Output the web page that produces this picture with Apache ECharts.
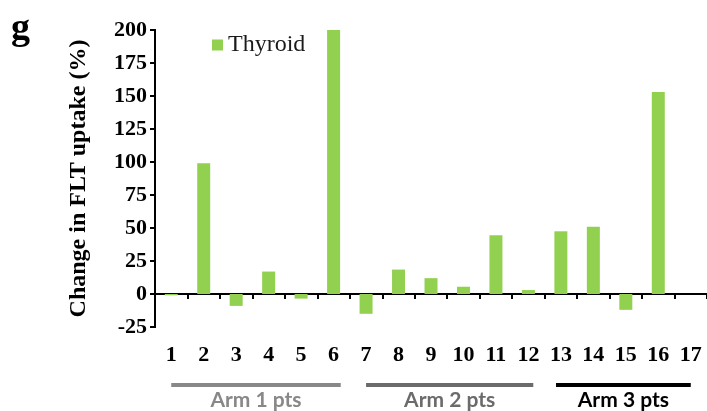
<!DOCTYPE html>
<html>
<head>
<meta charset="utf-8">
<script src="https://cdn.jsdelivr.net/npm/echarts@6/dist/echarts.min.js"></script>
<style>
  html, body { margin: 0; padding: 0; background: #fff; }
  #chart { width: 707px; height: 411px; }
</style>
</head>
<body>
<div id="chart"></div>
<script>
// Patient numbers along the x axis
const patients = ['1','2','3','4','5','6','7','8','9','10','11','12','13','14','15','16','17'];
// Change in thyroid FLT uptake (%) per patient
const thyroid = [-1, 99, -9, 17, -3.5, 201.5, -15, 18.5, 12, 5.5, 44.5, 3, 47.5, 51, -12, 153, 0];
// Y axis range and step
const yMin = -25, yMax = 200, yStep = 25;
// Treatment arm groupings (first and last patient index, label, colour)
const arms = [
  { from: 0, to: 5, label: 'Arm 1 pts', color: '#888888' },
  { from: 6, to: 11, label: 'Arm 2 pts', color: '#6b6b6b' },
  { from: 12, to: 16, label: 'Arm 3 pts', color: '#000000' }
];

const serif = '"Liberation Serif", "Times New Roman", serif';
const chart = echarts.init(document.getElementById('chart'));

chart.setOption({
  animation: false,
  grid: { left: 155, top: 30, right: -2, bottom: 84 },
  legend: {
    data: ['Thyroid'],
    left: 207, top: 28,
    itemWidth: 11, itemHeight: 11, itemGap: 4,
    icon: 'rect',
    textStyle: { fontFamily: serif, fontSize: 24, color: '#1a1a1a', padding: [0, 0, 0, 0] }
  },
  xAxis: [
    {
      type: 'category', data: patients,
      axisLine: { onZero: true, lineStyle: { color: '#000', width: 2 } },
      axisTick: { show: true, length: 5, lineStyle: { color: '#000', width: 2 } },
      axisLabel: { show: false }
    },
    {
      type: 'category', data: patients, position: 'bottom',
      axisLine: { show: false, onZero: false }, axisTick: { show: false },
      axisLabel: { margin: 17, fontFamily: serif, fontWeight: 'bold', fontSize: 22, color: '#000', interval: 0 }
    }
  ],
  yAxis: {
    type: 'value', min: yMin, max: yMax, interval: yStep,
    name: 'Change in FLT uptake (%)',
    nameLocation: 'middle', nameGap: 64, nameRotate: 90,
    nameTextStyle: { fontFamily: serif, fontWeight: 'bold', fontSize: 24, color: '#000' },
    splitLine: { show: false },
    axisLine: { show: true, onZero: false, lineStyle: { color: '#000', width: 2 } },
    axisTick: { show: true, length: 5, lineStyle: { color: '#000', width: 2 } },
    axisLabel: { margin: 8, fontFamily: serif, fontWeight: 'bold', fontSize: 22, color: '#000' }
  },
  series: [{
    name: 'Thyroid', type: 'bar', xAxisIndex: 0,
    data: thyroid, barWidth: '40%',
    itemStyle: { color: '#92d050' }
  }]
});

// Pixel positions of the value range and the category slots
const yTop = chart.convertToPixel({ yAxisIndex: 0 }, yMax);
const yBottom = chart.convertToPixel({ yAxisIndex: 0 }, yMin);
const step = chart.convertToPixel({ xAxisIndex: 0 }, 1) - chart.convertToPixel({ xAxisIndex: 0 }, 0);
const xLeft = chart.convertToPixel({ xAxisIndex: 0 }, 0) - step / 2;

const elements = [
  // panel letter
  { type: 'text', left: 11, top: 10,
    style: { text: 'g', font: 'bold 38px ' + serif, fill: '#000' } },
  // value-axis spine
  { type: 'line', silent: true, z: 100,
    shape: { x1: xLeft, y1: yTop - 1, x2: xLeft, y2: yBottom + 1 },
    style: { stroke: '#000', lineWidth: 2 } }
];

// Arm brackets beneath the patient numbers
const startShift = [0, 0, -0.15];
const endShift = [0.22, 0.15, 0];
arms.forEach(function (a, i) {
  const x1 = chart.convertToPixel({ xAxisIndex: 0 }, a.from) + step * startShift[i];
  const x2 = chart.convertToPixel({ xAxisIndex: 0 }, a.to) + step * endShift[i];
  elements.push({ type: 'line', silent: true,
    shape: { x1: x1, y1: 385, x2: x2, y2: 385 },
    style: { stroke: a.color, lineWidth: 4 } });
  elements.push({ type: 'text', silent: true,
    x: (x1 + x2) / 2, y: 400,
    style: { text: a.label, font: 'bold 21px Lato, "Open Sans", sans-serif', fill: a.color,
      textAlign: 'center', textVerticalAlign: 'middle' } });
});
chart.setOption({ graphic: elements });
</script>
</body>
</html>
